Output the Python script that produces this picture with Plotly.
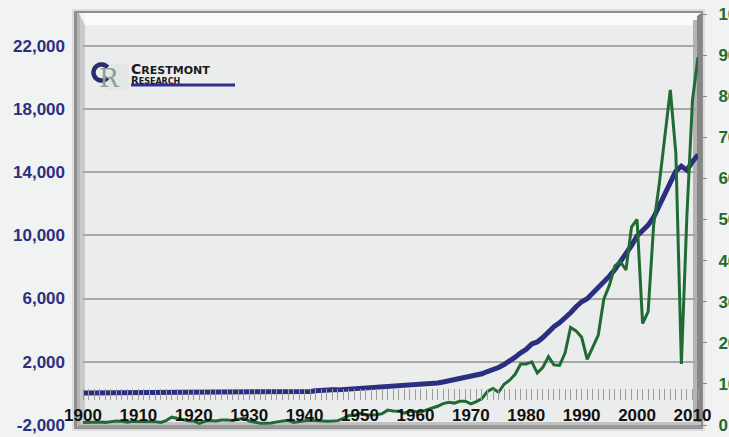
import math
import plotly.graph_objects as go

# Years 1900-2011
years = list(range(1900, 2012))

# Nominal GDP, $ billions
gdp = [
    20.1, 21.6, 22.9, 24.0, 23.9, 25.8, 28.9, 30.1, 26.8, 32.0,
    33.3, 34.2, 37.4, 39.1, 36.5, 38.7, 49.6, 59.7, 75.8, 78.9,
    88.4, 73.6, 73.4, 85.4, 86.8, 90.6, 96.6, 95.5, 97.4, 103.6,
    91.2, 76.5, 58.7, 56.4, 66.0, 73.3, 83.8, 91.9, 86.1, 92.2,
    101.4, 126.7, 161.9, 198.6, 219.8, 223.0, 222.2, 244.1, 269.1, 267.2,
    293.7, 339.3, 358.3, 379.3, 380.4, 414.7, 437.4, 461.1, 467.2, 506.6,
    526.4, 544.7, 585.6, 617.7, 663.6, 719.1, 787.8, 832.6, 910.0, 984.6,
    1038.5, 1127.1, 1238.3, 1382.7, 1500.0, 1638.3, 1825.3, 2030.9, 2294.7, 2563.3,
    2788.1, 3126.8, 3253.2, 3534.6, 3930.9, 4217.5, 4460.1, 4736.4, 5100.4, 5482.1,
    5800.5, 5992.1, 6342.3, 6667.4, 7085.2, 7414.7, 7838.5, 8332.4, 8793.5, 9353.5,
    9951.5, 10286.2, 10642.3, 11142.1, 11867.8, 12638.4, 13398.9, 14061.8, 14369.1, 14119.0,
    14660.4, 15090.0,
]

# S&P 500 earnings per share, $
eps = [
    0.62, 0.69, 0.76, 0.72, 0.64, 0.82, 0.95, 0.90, 0.68, 0.88,
    0.91, 0.80, 0.82, 0.82, 0.62, 1.06, 1.90, 1.63, 1.20, 1.04,
    0.95, 0.41, 0.91, 1.07, 1.00, 1.24, 1.24, 1.12, 1.38, 1.61,
    0.97, 0.61, 0.41, 0.44, 0.49, 0.76, 1.02, 1.13, 0.64, 0.90,
    1.05, 1.16, 1.03, 0.94, 0.93, 0.96, 1.06, 1.61, 2.29, 2.32,
    2.84, 2.44, 2.40, 2.51, 2.77, 3.62, 3.41, 3.37, 2.89, 3.39,
    3.27, 3.19, 3.67, 4.02, 4.55, 5.19, 5.55, 5.33, 5.76, 5.78,
    5.13, 5.70, 6.42, 8.16, 8.89, 7.96, 9.91, 10.89, 12.33, 14.86,
    14.82, 15.36, 12.64, 14.03, 16.64, 14.61, 14.48, 17.50, 23.75, 22.87,
    21.34, 15.97, 19.09, 21.89, 30.60, 33.96, 38.73, 39.72, 37.71, 48.17,
    50.00, 24.69, 27.59, 48.74, 58.55, 69.93, 81.51, 66.17, 14.88, 50.97,
    79.00, 89.50,
]

# Axis ticks
decade_ticks = list(range(1900, 2011, 10))
gdp_ticks = [-2000, 2000, 6000, 10000, 14000, 18000, 22000]
eps_ticks = list(range(0, 101, 10))

W, H = 729, 437
L, R, T, B = 83, 698, 14, 425  # plot area in pixels


def fx(x):
    return (x - L) / (R - L)


def fy(y):
    return (B - y) / (B - T)


def rect(x0, y0, x1, y1, color):
    return dict(type="rect", xref="paper", yref="paper", layer="below",
                x0=fx(x0), x1=fx(x1), y0=fy(y1), y1=fy(y0),
                fillcolor=color, line=dict(width=0))


def poly(points, color):
    path = "M " + " L ".join(f"{fx(x)},{fy(y)}" for x, y in points) + " Z"
    return dict(type="path", xref="paper", yref="paper", layer="below",
                path=path, fillcolor=color, line=dict(width=0))


def arc_path(cx, cy, r, a0, a1, n=24):
    pts = []
    for i in range(n + 1):
        a = math.radians(a0 + (a1 - a0) * i / n)
        pts.append((cx + r * math.cos(a), cy - r * math.sin(a)))
    return "M " + " L ".join(f"{fx(x)},{fy(y)}" for x, y in pts)


NAVY = "#2b2f80"
GREEN = "#1f6b33"

fig = go.Figure()
fig.add_trace(go.Scatter(x=years, y=eps, mode="lines", yaxis="y2",
                         line=dict(color=GREEN, width=3), showlegend=False))
fig.add_trace(go.Scatter(x=years, y=gdp, mode="lines", yaxis="y",
                         line=dict(color=NAVY, width=5), showlegend=False))

# Bevelled frame around the plot area
shapes = [
    rect(72, 9, 705, 431, "#dcdddd"),
    rect(74, 11, 703, 429, "#8e8e8e"),
    rect(77, 13, 701, 427, "#b6b6b6"),
    rect(80, 14, 698, 425, "#c9c9c9"),
    rect(85, 25, 693, 422, "#ebecec"),
    poly([(79, 13), (701, 13), (693, 25), (85, 25)], "#fbfbfb"),
    poly([(79, 13), (85, 25), (85, 14)], "#f2f2f2"),
    rect(693, 20, 697, 424, "#b4b4b4"),
    poly([(697, 16), (702, 13), (702, 427), (697, 424)], "#868686"),
    rect(80, 422, 701, 425, "#c2c2c2"),
    rect(78, 425, 702, 428, "#9a9a9a"),
    # logo: faint grid tile, the "C" ring and the underline bar
    rect(107, 64, 129, 90, "#e2e6e4"),
    dict(type="path", xref="paper", yref="paper", layer="below",
         path=arc_path(101.5, 72.5, 8, 40, 320),
         line=dict(color="#2a2d6b", width=4.5)),
    rect(131, 83.5, 235, 86.5, "#2e3192"),
]

annotations = [
    dict(text="R", x=fx(98), y=fy(78), xanchor="left", yanchor="middle",
         font=dict(family="DejaVu Serif", size=26, color="#86a296")),
    dict(text="<span style='font-size:14px'>C</span>"
              "<span style='font-size:11px'>RESTMONT</span><br>"
              "<span style='font-size:10px'>R</span>"
              "<span style='font-size:8px'>ESEARCH</span>",
         x=fx(130), y=fy(73), xanchor="left", yanchor="middle", align="left",
         font=dict(family="DejaVu Sans", size=8, color="#1b1b1b",
                   weight="bold")),
]
for a in annotations:
    a.update(xref="paper", yref="paper", showarrow=False, borderpad=0)

tick_font = dict(family="Arial, Liberation Sans", size=17, weight="bold")

fig.update_layout(
    width=W, height=H, autosize=False,
    margin=dict(l=L, r=W - R, t=T, b=H - B, pad=0, autoexpand=False),
    paper_bgcolor="#f1f2f2",
    plot_bgcolor="rgba(0,0,0,0)",
    shapes=shapes,
    annotations=annotations,
    xaxis=dict(
        range=[1900, 2011], anchor="free", position=(316 + 2000) / 26000,
        automargin=False,
        showline=False, showgrid=False, zeroline=False,
        tickmode="array", tickvals=decade_ticks,
        ticktext=[str(v) for v in decade_ticks],
        ticks="outside", ticklen=11, tickwidth=1, tickcolor="#9c9c9c",
        minor=dict(tickmode="array", tickvals=years, ticks="outside",
                   ticklen=11, tickwidth=1, tickcolor="#9c9c9c"),
        ticklabelstandoff=0,
        tickfont=dict(color="#111111", **tick_font),
    ),
    yaxis=dict(
        range=[-2000, 24000], showline=False, zeroline=False,
        automargin=False,
        tickmode="array", tickvals=gdp_ticks,
        ticktext=[f"{v:,}" for v in gdp_ticks],
        showgrid=True, gridcolor="#a8a8a8", gridwidth=1.5,
        ticks="", ticklabelstandoff=17,
        tickfont=dict(color=NAVY, **tick_font),
    ),
    yaxis2=dict(
        range=[0, 100], overlaying="y", side="right", anchor="x",
        automargin=False,
        showline=False, showgrid=False, zeroline=False,
        tickmode="array", tickvals=eps_ticks,
        ticktext=[str(v) for v in eps_ticks],
        ticks="outside", ticklen=8, tickwidth=1, tickcolor="#8a8a8a",
        ticklabelstandoff=8,
        tickfont=dict(color=GREEN, **tick_font),
    ),
)

fig.write_html("out.html", config=dict(displayModeBar=False))
